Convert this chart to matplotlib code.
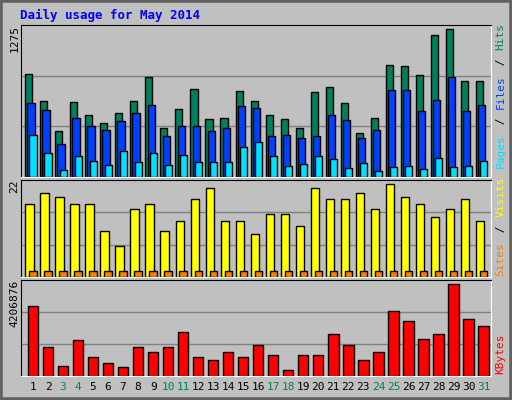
import matplotlib.pyplot as plt
import numpy as np
from matplotlib.patches import Rectangle

days = np.arange(1, 32)
weekend = [3, 4, 10, 11, 17, 18, 24, 25, 31]
hits = [863, 636, 384, 625, 524, 457, 541, 636, 835, 415, 569, 734, 485, 499, 720, 636,
        524, 485, 415, 709, 751, 617, 373, 491, 936, 928, 852, 1191, 1239, 802, 802]
files = [617, 558, 281, 491, 424, 398, 466, 541, 608, 348, 424, 424, 390, 415, 592, 575,
         348, 356, 323, 340, 524, 474, 331, 398, 726, 726, 550, 650, 835, 550, 608]
pages = [356, 205, 62, 180, 138, 104, 222, 129, 205, 104, 188, 129, 129, 129, 255, 297,
         180, 96, 113, 180, 155, 79, 121, 54, 87, 96, 71, 163, 87, 96, 138]
visits = [16.5, 19, 18.2, 16.5, 16.5, 10.5, 7, 15.4, 16.5, 10.5, 12.6, 17.6, 20.2, 12.6, 12.6, 9.7,
          14.4, 14.4, 11.6, 20.2, 17.6, 17.6, 19, 15.4, 21.1, 18.2, 16.5, 13.5, 15.4, 17.6, 12.6]
sites = [1.3] * 31
kbytes = [3.05e6, 1.29e6, 0.46e6, 1.56e6, 0.85e6, 0.55e6, 0.41e6, 1.25e6, 1.03e6, 1.25e6, 1.95e6,
          0.85e6, 0.72e6, 1.07e6, 0.85e6, 1.34e6, 0.90e6, 0.28e6, 0.90e6, 0.94e6, 1.86e6, 1.34e6,
          0.68e6, 1.07e6, 2.87e6, 2.39e6, 1.64e6, 1.86e6, 4.02e6, 2.48e6, 2.17e6]
kb_max = 4206876

bg = '#C0C0C0'
mono = 'DejaVu Sans Mono'
fig = plt.figure(figsize=(5.12, 4.0), dpi=100, facecolor=bg)
fig.patches.append(Rectangle((0, 0), 1, 1, transform=fig.transFigure, fill=False,
                             edgecolor='#606060', linewidth=4))

def panel(bottom, height, ymax):
    ax = fig.add_axes([0.041, bottom, 0.918, height])
    ax.set_facecolor(bg)
    ax.set_xlim(0.2, 31.5)
    ax.set_ylim(0, ymax)
    for g in (ymax / 3, 2 * ymax / 3):
        ax.axhline(g, color='#808080', lw=1, zorder=0)
    ax.set_xticks([])
    ax.set_yticks([])
    for s in ax.spines.values():
        s.set_color('black')
    ax.spines['bottom'].set_color('white')
    ax.spines['right'].set_color('white')
    ax.text(-0.014, 1.0, f'{ymax:.0f}', transform=ax.transAxes, rotation=90,
            ha='center', va='top', fontsize=8, family=mono)
    return ax

kw = dict(edgecolor='black', linewidth=1)
ax1 = panel(0.5575, 0.38, 1275)
ax1.bar(days - 0.28, hits, 0.47, color='#00805C', **kw)
ax1.bar(days - 0.13, files, 0.49, color='#0040FF', **kw)
ax1.bar(days, pages, 0.47, color='#00E0FF', **kw)

ax2 = panel(0.3075, 0.2425, 22)
ax2.bar(days - 0.23, visits, 0.56, color='#FFFF00', **kw)
ax2.bar(days, sites, 0.49, color='#FF8000', **kw)

ax3 = panel(0.06, 0.24, kb_max)
ax3.bar(days, kbytes, 0.69, color='#FF0000', **kw)
for d in days:
    ax3.text(d, -0.06, str(d), transform=ax3.get_xaxis_transform(), ha='center', va='top',
             fontsize=8, family=mono, color='#00805C' if d in weekend else 'black')

fig.text(0.04, 0.962, 'Daily usage for May 2014', color='#0000FF', fontsize=9,
         fontweight='bold', family=mono, va='center')

def side(y, parts):
    # stacked rotated legend labels, bottom to top
    for txt, col in parts:
        fig.text(0.978, y, txt, rotation=90, color=col, fontsize=8, family=mono,
                 ha='center', va='bottom')
        y += len(txt) * 0.0185

side(0.58, [('Pages', '#00E0FF'), (' / ', 'black'), ('Files', '#0040FF'),
            (' / ', 'black'), ('Hits', '#00805C')])
side(0.31, [('Sites', '#FF8000'), (' / ', 'black'), ('Visits', '#FFFF00')])
side(0.065, [('KBytes', '#FF0000')])

fig.savefig('out.png', dpi=100, facecolor=bg)
